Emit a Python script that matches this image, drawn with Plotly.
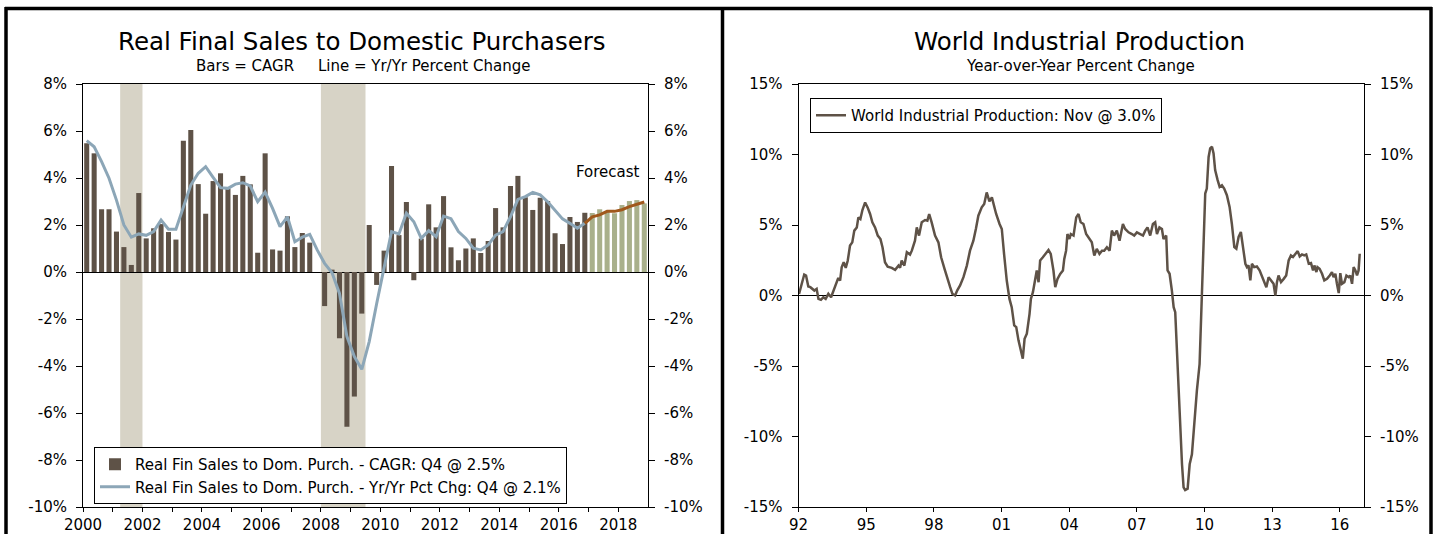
import plotly.graph_objects as go

W, H = 1437, 534
FONT = "DejaVu Sans, Verdana, sans-serif"

# ---------------- Left chart data ----------------
years_q = list(range(2000, 2019))
cagr_actual = [
    5.48, 5.05, 2.67, 2.67,
    1.72, 1.06, 0.30, 3.36,
    1.43, 1.86, 2.04, 1.70,
    1.38, 5.59, 6.04, 3.74,
    2.48, 3.87, 4.20, 3.55,
    3.28, 4.09, 3.73, 0.82,
    5.05, 0.96, 0.91, 2.37,
    1.06, 1.66, 1.25, 0.00,
    -1.45, 0.10, -2.82, -6.58,
    -5.30, -1.77, 2.00, -0.55,
    0.91, 4.51, 1.57, 2.98,
    -0.35, 1.42, 2.88, 1.90,
    3.23, 1.05, 0.50, 1.00,
    1.43, 0.81, 1.32, 2.72,
    1.90, 3.66, 4.09, 3.18,
    2.64, 3.16, 3.02, 1.65,
    1.19, 2.34, 2.13, 2.52,
]
cagr_forecast = [2.51, 2.67, 2.58, 2.50, 2.85, 3.02, 3.06, 2.92]
yoy_actual = [
    5.59, 5.33, 4.70, 3.99,
    3.06, 2.00, 1.48, 1.62,
    1.56, 1.72, 2.21, 1.82,
    1.82, 2.78, 3.70, 4.20,
    4.48, 4.03, 3.59, 3.56,
    3.74, 3.80, 3.66, 2.99,
    3.40, 2.71, 1.93, 2.35,
    1.29, 1.48, 1.60, 0.94,
    0.37, -0.03, -0.91, -2.75,
    -3.60, -4.14, -2.96, -1.35,
    0.23, 1.72, 1.62, 2.50,
    2.14, 1.43, 1.76, 1.50,
    2.38, 2.27, 1.72, 1.43,
    1.01, 0.94, 1.15, 1.57,
    1.72, 2.35, 3.09, 3.21,
    3.39, 3.28, 2.99, 2.64,
    2.26, 2.07, 1.86, 2.07,
]
yoy_forecast = [2.07, 2.35, 2.43, 2.58, 2.58, 2.65, 2.78, 2.89, 2.98]
recessions = [(2001.25, 2002.0), (2008.0, 2009.5)]

quarters = [(y, q) for y in years_q for q in range(1, 5)]
qx = [y + (q - 1) / 4 + 0.125 for (y, q) in quarters]
n_act = len(cagr_actual)
x_act = qx[:n_act]
x_fc = qx[n_act:]
x_fc_line = qx[n_act - 1:]

left_xtickvals = list(range(2000, 2019))
left_xticktext = [str(y) if y % 2 == 0 else "" for y in left_xtickvals]
left_yticks = list(range(-10, 9, 2))
left_yticktext = [f"{v}%" for v in left_yticks]

# ---------------- Right chart data ----------------
wip_x = [
    1992.02, 1992.14, 1992.25, 1992.33, 1992.43, 1992.52, 1992.61, 1992.70, 1992.80, 1992.88,
    1992.99, 1993.10, 1993.20, 1993.32, 1993.44, 1993.54, 1993.65, 1993.76, 1993.84, 1993.91,
    1994.00, 1994.09, 1994.18, 1994.28, 1994.38, 1994.47, 1994.58, 1994.65, 1994.74, 1994.83,
    1994.95, 1995.06, 1995.17, 1995.27, 1995.39, 1995.51, 1995.63, 1995.72, 1995.83, 1995.95,
    1996.13, 1996.28, 1996.43, 1996.50, 1996.57, 1996.69, 1996.80, 1996.94, 1997.02, 1997.16,
    1997.24, 1997.34, 1997.46, 1997.61, 1997.71, 1997.79, 1997.90, 1998.05, 1998.20, 1998.32,
    1998.47, 1998.61, 1998.72, 1998.82, 1998.94, 1999.03, 1999.16, 1999.31, 1999.46, 1999.60,
    1999.75, 1999.86, 1999.97,
    2000.12, 2000.23, 2000.34, 2000.46, 2000.57, 2000.64, 2000.76, 2000.91, 2001.01, 2001.11,
    2001.23, 2001.35, 2001.45, 2001.56, 2001.65, 2001.75, 2001.85, 2001.94, 2002.02, 2002.12,
    2002.24, 2002.30, 2002.39, 2002.49, 2002.56, 2002.64, 2002.71, 2002.83, 2002.93, 2003.08,
    2003.18, 2003.30, 2003.38, 2003.48, 2003.60, 2003.72, 2003.78, 2003.86, 2003.92, 2004.01,
    2004.07, 2004.19, 2004.31, 2004.41, 2004.51, 2004.63, 2004.75, 2004.90, 2005.00, 2005.11,
    2005.22, 2005.34, 2005.45, 2005.55, 2005.67, 2005.79, 2005.89, 2005.99, 2006.11, 2006.23,
    2006.38, 2006.48, 2006.63, 2006.78, 2006.88, 2007.00, 2007.15, 2007.27, 2007.37, 2007.47,
    2007.59, 2007.71, 2007.81, 2007.89, 2008.00, 2008.11, 2008.18, 2008.30,
    2008.36, 2008.45, 2008.55, 2008.63, 2008.70, 2008.77, 2008.85, 2008.92, 2009.00, 2009.07,
    2009.14, 2009.25, 2009.34, 2009.44, 2009.54, 2009.66, 2009.78, 2009.88, 2009.99, 2010.03,
    2010.10, 2010.18, 2010.25, 2010.33, 2010.40, 2010.47, 2010.58, 2010.67, 2010.77, 2010.87,
    2010.99, 2011.11, 2011.21, 2011.32, 2011.41, 2011.51, 2011.61, 2011.70, 2011.81, 2011.88,
    2011.95, 2012.03, 2012.10, 2012.20, 2012.32, 2012.44, 2012.55, 2012.65, 2012.74, 2012.84,
    2012.94, 2013.06, 2013.14, 2013.21, 2013.28, 2013.39, 2013.51, 2013.62, 2013.73, 2013.83,
    2013.92, 2014.02, 2014.13, 2014.22, 2014.32, 2014.42, 2014.51, 2014.62, 2014.72, 2014.81,
    2014.87, 2014.96, 2015.01, 2015.10, 2015.21, 2015.31, 2015.43, 2015.55, 2015.65, 2015.72,
    2015.80, 2015.87, 2015.95, 2016.02, 2016.09, 2016.20, 2016.29, 2016.39, 2016.46, 2016.54,
    2016.61, 2016.69, 2016.76, 2016.83, 2016.88,
]
wip_y = [
    0.12, 0.83, 1.49, 1.42, 0.64, 0.59, 0.47, 0.35, 0.47, -0.24,
    -0.31, -0.12, -0.24, 0.12, -0.12, 0.31, 0.83, 1.25, 1.06, 2.00,
    2.36, 1.96, 2.48, 3.54, 3.77, 4.60, 4.83, 5.54, 5.42, 6.06,
    6.60, 6.25, 5.78, 5.19, 4.83, 4.25, 4.00, 3.42, 2.36, 2.05,
    1.96, 1.82, 2.12, 1.96, 2.48, 2.12, 3.07, 2.90, 3.18, 3.89,
    4.83, 4.25, 5.19, 5.35, 5.31, 5.78, 5.19, 4.25, 3.77, 2.71,
    1.89, 1.06, 0.59, 0.12, 0.00, 0.35, 0.71, 1.30, 2.12, 3.18,
    3.89, 4.72, 5.66,
    6.25, 6.49, 7.31, 6.68, 6.96, 6.49, 5.78, 5.07, 4.72, 2.95,
    1.06, -0.24, -0.83, -2.12, -2.24, -3.18, -4.01, -4.48, -3.07, -2.71,
    -1.30, -0.24, 0.24, 1.18, 1.77, 0.94, 2.48, 2.71, 2.95, 3.23,
    2.95, 1.77, 0.59, 1.18, 1.53, 1.77, 2.59, 3.18, 4.36, 4.01,
    4.36, 4.25, 5.54, 5.78, 5.19, 5.07, 4.36, 4.01, 3.77, 2.83,
    3.30, 2.95, 3.18, 3.18, 3.42, 3.18, 4.60, 4.25, 4.60, 3.89,
    5.07, 4.72, 4.48, 4.36, 4.25, 4.48, 4.36, 4.25, 4.60, 4.83,
    4.25, 5.07, 5.19, 4.36, 4.83, 4.72, 4.01, 4.25,
    1.78, 1.54, 0.36, -0.83, -1.18, -3.67, -6.75, -9.60, -11.97, -13.60,
    -13.80, -13.70, -11.97, -11.26, -9.12, -6.75, -4.86, 0.12, 4.62, 7.23,
    7.58, 9.83, 10.43, 10.55, 10.07, 8.89, 8.18, 7.70, 7.82, 7.58,
    7.11, 6.28, 5.09, 3.44, 3.32, 4.15, 4.50, 3.44, 2.25, 2.01,
    2.13, 1.07, 2.25, 2.01, 2.06, 1.78, 1.30, 0.95, 0.59, 1.30,
    1.07, 0.83, 0.00, 0.95, 1.42, 0.95, 1.18, 1.42, 2.49, 2.84,
    2.73, 2.91, 3.15, 2.77, 2.91, 2.84, 2.91, 2.25, 2.30, 1.78,
    2.13, 1.66, 2.01, 1.90, 1.54, 1.07, 1.18, 1.42, 1.66, 1.30,
    1.54, 0.83, 0.17, 1.59, 0.83, 0.95, 1.42, 1.30, 1.42, 0.83,
    2.01, 1.78, 1.42, 1.78, 2.96,
]
right_xtickvals = [1992, 1995, 1998, 2001, 2004, 2007, 2010, 2013, 2016]
right_xticktext = ["92", "95", "98", "01", "04", "07", "10", "13", "16"]
right_yticks = list(range(-15, 16, 5))
right_yticktext = [f"{v}%" for v in right_yticks]

# ---------------- colours ----------------
BAR = "#5E5247"
BAR_FC = "#A9B08B"
LINE = "#8CA6B7"
LINE_FC = "#A0581C"
SHADE = "#D7D3C6"


def px_x(p):
    return p / W


def px_y(p):
    return 1 - p / H


fig = go.Figure()

fig.add_trace(go.Bar(
    x=x_act, y=cagr_actual, width=0.17, marker=dict(color=BAR, line=dict(width=0)),
    name="Real Fin Sales to Dom. Purch. - CAGR: Q4 @ 2.5%",
    xaxis="x", yaxis="y", legend="legend",
))
fig.add_trace(go.Bar(
    x=x_fc, y=cagr_forecast, width=0.17, marker=dict(color=BAR_FC, line=dict(width=0)),
    showlegend=False, xaxis="x", yaxis="y",
))
fig.add_trace(go.Scatter(
    x=x_act, y=yoy_actual, mode="lines", line=dict(color=LINE, width=3),
    name="Real Fin Sales to Dom. Purch. - Yr/Yr Pct Chg: Q4 @ 2.1%",
    xaxis="x", yaxis="y", legend="legend",
))
fig.add_trace(go.Scatter(
    x=x_fc_line, y=yoy_forecast, mode="lines", line=dict(color=LINE_FC, width=3),
    showlegend=False, xaxis="x", yaxis="y",
))
fig.add_trace(go.Scatter(
    x=wip_x, y=wip_y, mode="lines", line=dict(color=BAR, width=2.5),
    name="World Industrial Production: Nov @ 3.0%",
    xaxis="x2", yaxis="y3", legend="legend2",
))
# empty traces so the right-hand mirror axes are drawn
fig.add_trace(go.Scatter(x=[None], y=[None], xaxis="x", yaxis="y2", showlegend=False, hoverinfo="skip"))
fig.add_trace(go.Scatter(x=[None], y=[None], xaxis="x2", yaxis="y4", showlegend=False, hoverinfo="skip"))

ydom = [px_y(507), px_y(84)]
tickfont = dict(family=FONT, size=15, color="#000000")
axis_common = dict(showgrid=False, showline=True, linecolor="#000000", linewidth=1,
                   ticks="outside", tickcolor="#000000", tickfont=tickfont, automargin=False)

fig.update_layout(
    width=W, height=H,
    margin=dict(l=0, r=0, t=0, b=0),
    paper_bgcolor="white", plot_bgcolor="white",
    barmode="overlay",
    font=dict(family=FONT, color="#000000"),
    xaxis=dict(domain=[px_x(83), px_x(648)], range=[2000, 2019], tickvals=left_xtickvals,
               ticktext=left_xticktext, ticklen=4, mirror=True, anchor="y", zeroline=False,
               **axis_common),
    yaxis=dict(domain=ydom, range=[-10, 8], tickvals=left_yticks, ticktext=left_yticktext, ticklen=6,
               ticklabelstandoff=6,
               zeroline=True, zerolinecolor="#000000", zerolinewidth=1, anchor="x", mirror=True,
               **axis_common),
    yaxis2=dict(domain=ydom, range=[-10, 8], tickvals=left_yticks, ticktext=left_yticktext, ticklen=6,
                ticklabelstandoff=6,
                overlaying="y", side="right", anchor="x", zeroline=False, **axis_common),
    xaxis2=dict(domain=[px_x(798.6), px_x(1364)], range=[1992, 2017.07], tickvals=right_xtickvals,
                ticktext=right_xticktext, ticklen=4, mirror=True, anchor="y3", zeroline=False,
                **axis_common),
    yaxis3=dict(domain=ydom, range=[-15, 15], tickvals=right_yticks, ticktext=right_yticktext, ticklen=6,
                ticklabelstandoff=6,
                zeroline=True, zerolinecolor="#000000", zerolinewidth=1, anchor="x2", mirror=True,
                **axis_common),
    yaxis4=dict(domain=ydom, range=[-15, 15], tickvals=right_yticks, ticktext=right_yticktext, ticklen=6,
                ticklabelstandoff=6,
                overlaying="y3", side="right", anchor="x2", zeroline=False, **axis_common),
    legend=dict(x=px_x(94), y=px_y(447), xanchor="left", yanchor="top",
                bgcolor="white", bordercolor="#000000", borderwidth=1,
                font=dict(family=FONT, size=15, color="#000000"), itemwidth=30,
                tracegroupgap=0, traceorder="normal"),
    legend2=dict(x=px_x(810), y=px_y(98), xanchor="left", yanchor="top",
                 bgcolor="white", bordercolor="#000000", borderwidth=1,
                 font=dict(family=FONT, size=15, color="#000000"), itemwidth=30),
)

shapes = []
for (a, b) in recessions:
    shapes.append(dict(type="rect", xref="x", yref="y domain", x0=a, x1=b, y0=0, y1=1,
                       fillcolor=SHADE, line=dict(width=0), layer="below"))
border = dict(color="#000000", width=3.5)
shapes += [
    dict(type="line", xref="paper", yref="paper", x0=px_x(5), x1=px_x(1432), y0=px_y(8.5), y1=px_y(8.5), line=border),
    dict(type="line", xref="paper", yref="paper", x0=px_x(6), x1=px_x(6), y0=px_y(7), y1=-0.05, line=border),
    dict(type="line", xref="paper", yref="paper", x0=px_x(722.5), x1=px_x(722.5), y0=px_y(7), y1=-0.05, line=border),
    dict(type="line", xref="paper", yref="paper", x0=px_x(1431), x1=px_x(1431), y0=px_y(7), y1=-0.05, line=border),
]
fig.update_layout(shapes=shapes)

annots = [
    dict(text="Real Final Sales to Domestic Purchasers", x=px_x(362), y=px_y(42), xref="paper", yref="paper",
         showarrow=False, xanchor="center", yanchor="middle", font=dict(family=FONT, size=24.5, color="#000000")),
    dict(text="Bars = CAGR" + "\u00a0" * 5 + "Line = Yr/Yr Percent Change", x=px_x(363), y=px_y(66),
         xref="paper", yref="paper", showarrow=False, xanchor="center", yanchor="middle",
         font=dict(family=FONT, size=15, color="#000000")),
    dict(text="World Industrial Production", x=px_x(1079), y=px_y(42), xref="paper", yref="paper",
         showarrow=False, xanchor="center", yanchor="middle", font=dict(family=FONT, size=24.5, color="#000000")),
    dict(text="Year-over-Year Percent Change", x=px_x(1080), y=px_y(66), xref="paper", yref="paper",
         showarrow=False, xanchor="center", yanchor="middle", font=dict(family=FONT, size=15, color="#000000")),
    dict(text="Forecast", x=2018.8, y=4.25, xref="x", yref="y", showarrow=False, xanchor="right",
         yanchor="middle", font=dict(family=FONT, size=15, color="#000000")),
]
fig.update_layout(annotations=annots)

fig.write_html("out.html")
